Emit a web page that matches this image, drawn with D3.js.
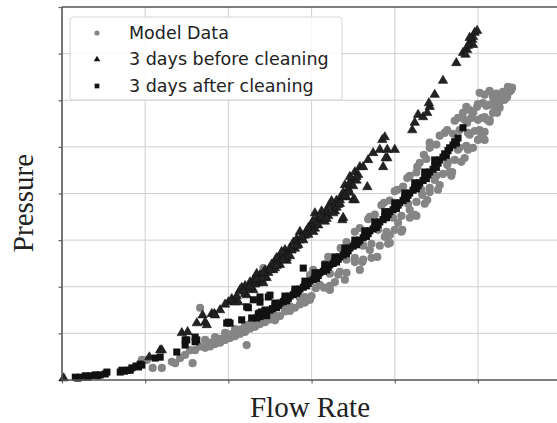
<!DOCTYPE html>
<html>
<head>
<meta charset="utf-8">
<script src="https://cdn.jsdelivr.net/npm/d3@7.9.0/dist/d3.min.js"></script>
<style>
  body { margin: 0; background: #fff; }
  svg { display: block; }
</style>
</head>
<body>
<svg id="chart" width="557" height="423"></svg>
<script>
// series labels, legend order
const seriesNames = ['Model Data', '3 days before cleaning', '3 days after cleaning'];

// grid positions (no tick labels in the figure)
const flowTicks = [0, 1, 2, 3, 4, 5];
const pressureTicks = [0, 1, 2, 3, 4, 5, 6, 7, 8];

// [flow, pressure]
const modelData = [
  [0.96,0.43],[1.02,0.43],[1.09,0.26],[1.20,0.26],[1.32,0.39],[1.36,0.36],[1.57,0.36],[1.66,1.55],
  [2.22,0.75],[2.42,2.40],[1.54,0.64],[1.48,0.54],[1.42,0.47],
  [1.60,0.64],[1.72,0.69],[1.72,0.86],[1.84,0.77],[1.84,0.92],[1.96,0.86],[1.96,1.01],[2.08,0.94],
  [2.08,1.09],[2.20,1.03],[2.20,1.18],[2.32,1.14],[2.32,1.29],
  [1.66,0.72],[1.78,0.80],[1.78,0.72],[1.90,0.88],[1.90,0.80],[2.02,0.98],[2.02,0.90],[2.14,1.08],
  [2.14,0.99],[2.26,1.20],[2.26,1.10],[2.38,1.30],[2.38,1.20],[2.50,1.30],[2.56,1.38],[2.56,1.28],
  [2.68,1.47],[2.74,1.48],[2.74,1.58],[2.86,1.62],[2.92,1.66],[2.92,1.78],
  [2.44,1.24],[2.62,1.37],[2.80,1.55],[2.98,1.72],[3.22,1.93],[3.40,2.15],[3.58,2.36],[3.79,2.64],
  [3.94,2.94],[4.09,3.22],[4.24,3.54],[4.39,3.86],[4.54,4.18],[4.69,4.46],[4.84,4.76],[5.00,5.15],
  [5.14,5.54],[5.26,5.84],[5.38,6.18],
  [2.50,1.42],[2.68,1.57],[2.86,1.76],[3.10,2.04],[3.34,2.32],[3.52,2.53],[3.70,2.79],[3.88,3.07],
  [4.04,3.37],[4.18,3.65],[4.33,3.97],[4.48,4.29],[4.63,4.61],[4.76,4.94],[4.90,5.26],[5.05,5.62],[5.19,5.94],
  [3.00,1.80],[3.28,2.10],[3.61,2.53],[3.94,3.11],[4.21,3.54],[4.42,4.03],[4.66,4.46],[4.88,4.94],[5.08,5.32],
  [2.98,2.25],[3.16,2.49],[3.35,2.83],[3.52,3.18],[3.70,3.50],[3.87,3.80],[4.03,4.08],[4.15,4.33],
  [4.27,4.57],[4.35,4.83],[4.42,5.09],[4.54,5.24],[4.63,5.36],[4.72,5.56],[4.82,5.73],[4.90,5.79],[4.99,5.86],
  [3.05,1.97],[3.15,1.98],[3.22,2.02],
  [3.22,2.28],[3.32,2.26],[3.42,2.30],[3.02,2.36],
  [3.42,2.58],[3.52,2.62],[3.62,2.58],[3.72,2.62],[3.20,2.64],
  [3.62,2.88],[3.72,2.92],[3.82,2.88],[3.92,2.92],[3.42,2.96],
  [3.80,3.22],[3.90,3.18],[4.00,3.22],[4.08,3.18],[3.58,3.26],
  [3.98,3.48],[4.08,3.52],[4.18,3.48],[4.26,3.52],[3.76,3.55],[3.68,3.45],
  [4.16,3.78],[4.26,3.82],[4.36,3.78],[3.94,3.85],[3.84,3.75],
  [4.32,4.08],[4.42,4.12],[4.52,4.08],[4.10,4.15],[4.00,4.05],
  [4.50,4.38],[4.58,4.42],[4.68,4.38],[4.26,4.45],[4.18,4.38],
  [4.64,4.68],[4.72,4.72],[4.80,4.68],[4.38,4.74],[4.30,4.66],
  [4.78,4.98],[4.86,5.02],[4.94,4.98],[4.50,5.05],[4.42,4.98],
  [4.60,5.30],[4.70,5.28],[4.88,5.30],[4.96,5.34],[5.04,5.26],
  [4.76,5.62],[4.84,5.58],[4.92,5.62],[5.00,5.58],[5.08,5.64],[5.14,5.58],
  [4.86,5.86],[5.00,5.92],[5.10,5.88],[5.20,5.88],[5.26,5.96],
  [5.08,6.12],[5.14,6.20],[5.22,6.14],[5.30,6.10],[5.40,6.22],
  [5.02,6.16],[5.06,5.94],[4.94,5.73],[4.87,5.52],[4.78,5.36],[5.18,6.07],[5.26,6.01],[5.35,6.07],
  [5.30,6.18],[5.36,6.29],[5.41,6.27],[5.18,5.73],[5.11,5.58],[5.02,5.36],[5.23,5.73],[5.32,6.01],
  [5.14,5.90],[5.08,5.15],[5.05,5.30]
];

const beforeCleaning = [
  [0.02,0.04],[1.05,0.49],[1.18,0.64],[1.20,0.64],[1.44,1.01],[1.51,1.03],[1.62,1.22],[1.69,1.39],
  [1.72,1.24],[1.74,1.18],[1.80,1.42],[1.83,1.42],[1.84,1.39],[2.00,1.67],[2.08,1.67],[2.12,1.67],
  [2.22,1.82],[2.28,1.97],[2.30,1.93],[2.36,2.08],[2.42,2.08],[2.46,2.19],[2.54,2.36],[2.62,2.47],[2.70,2.56],
  [2.14,1.93],[2.26,2.10],[2.38,2.25],[2.50,2.40],[2.62,2.62],[2.68,2.79],[2.74,2.83],[2.86,3.00],
  [2.86,3.18],[2.98,3.26],[3.04,3.58],[3.10,3.43],[3.22,3.76],[3.34,3.86],[3.40,4.18],[3.52,4.46],
  [2.20,2.02],[2.20,1.85],[2.32,2.20],[2.32,2.05],[2.44,2.35],[2.44,2.20],[2.56,2.55],[2.56,2.40],
  [2.66,2.70],[2.72,2.70],[2.78,2.95],[2.80,2.82],[2.92,3.10],[2.94,3.20],[3.00,3.35],[3.06,3.45],
  [3.14,3.55],[3.18,3.65],[3.26,3.70],[3.30,3.85],[3.36,3.95],[3.44,4.10],[3.48,4.30],[3.56,4.40],[3.58,4.57],
  [1.90,1.50],[1.96,1.62],[2.04,1.74],[2.10,1.80],[2.16,1.98],[2.24,1.95],[2.30,2.12],[2.34,2.28],
  [2.40,2.18],[2.48,2.30],[2.52,2.48],[2.58,2.62],[2.60,2.50],[2.64,2.75],[2.70,2.62],[2.76,2.78],
  [2.82,3.02],[2.84,2.90],[2.90,3.00],[2.96,3.12],[3.02,3.42],[3.04,3.25],[3.12,3.62],[3.16,3.40],
  [3.20,3.52],[3.24,3.84],[3.28,3.62],[3.32,3.76],[3.38,4.02],[3.42,3.92],[3.46,4.22],[3.54,4.28],
  [2.18,1.90],[2.26,2.00],[2.34,2.16],[2.42,2.30],[2.50,2.36],[2.58,2.45],[2.66,2.58],[2.74,2.66],
  [2.82,2.88],[2.88,3.08],[2.96,3.26],[3.02,3.18],[3.08,3.32],[3.12,3.50],[3.18,3.46],[3.26,3.58],
  [3.30,3.70],[3.34,3.78],[3.40,3.96],[3.46,4.02],[3.50,4.16],[3.54,4.36],[3.46,4.36],
  [3.37,3.43],[3.50,3.86],[3.38,3.48],[3.52,3.86],[3.67,4.14],
  [3.62,4.57],[3.68,4.72],[3.74,4.87],[3.82,4.94],[3.91,4.94],[4.00,4.94],[3.91,4.76],[3.85,5.15],
  [3.88,5.21],[3.86,4.57],[3.89,4.76],
  [4.21,5.36],[4.24,5.52],[4.28,5.69],[4.34,5.64],[4.39,5.73],[4.42,5.86],[4.41,5.94],[4.48,6.12],
  [4.58,6.42],[4.74,6.80],[4.82,7.02],[4.87,7.08],[4.90,7.23],[4.93,7.30],[4.94,7.36],[4.96,7.45],
  [4.94,7.19],[4.90,7.34],[4.88,7.17],[4.99,7.49],[4.85,6.98]
];

const afterCleaning = [
  [0.16,0.06],[0.19,0.04],[0.22,0.06],[0.28,0.09],[0.31,0.06],[0.34,0.09],[0.40,0.11],[0.43,0.09],
  [0.46,0.11],[0.52,0.13],[0.54,0.17],
  [0.70,0.17],[0.72,0.21],[0.75,0.19],[0.79,0.21],[0.82,0.21],[0.84,0.26],[0.89,0.30],[0.92,0.28],[0.94,0.34],
  [0.96,0.32],[1.12,0.47],[1.18,0.49],[1.38,0.60],[1.48,0.75],[1.48,0.86],[1.50,0.86],[1.60,0.82],
  [1.60,0.92],[1.62,0.86],
  [1.98,1.22],[2.00,1.24],[2.02,1.22],[2.16,1.29],[2.22,1.57],[2.24,1.55],[2.30,1.72],[2.38,1.44],
  [2.38,1.67],[2.38,1.78],[2.40,1.46],[2.48,1.78],[2.50,1.82],[2.90,2.40],
  [2.34,1.33],[2.42,1.42],[2.50,1.50],[2.56,1.59],[2.62,1.65],[2.68,1.72],[2.74,1.80],[2.80,1.89],
  [2.86,1.95],[2.92,2.04],[2.98,2.12],[3.04,2.21],[3.10,2.30],[3.16,2.38],[3.22,2.47],[3.28,2.55],
  [3.34,2.64],[3.40,2.73],[3.46,2.83],[3.52,2.92],[3.58,3.00],[3.64,3.09],[3.70,3.20],[3.76,3.28],
  [3.82,3.39],[3.88,3.50],[3.94,3.61],[4.00,3.69],[4.06,3.80],[4.12,3.91],[4.18,4.01],[4.24,4.12],
  [4.30,4.23],[4.36,4.33],[4.42,4.46],[4.48,4.59],[4.54,4.72],[4.60,4.85],[4.66,4.98],[4.72,5.11],
  [4.76,5.19],[4.82,5.41],
  [2.28,1.33],[2.36,1.42],[2.44,1.50],[2.56,1.65],[2.68,1.80],[2.80,1.95],[2.92,2.12],[3.04,2.30],
  [3.16,2.47],[3.28,2.64],[3.40,2.83],[3.52,3.00],[3.64,3.20],[3.76,3.39],[3.88,3.61],[4.00,3.80],
  [4.12,4.01],[4.24,4.23],[4.36,4.46],[4.48,4.72],
  [2.38,1.36],[2.46,1.44],[2.53,1.53],[2.60,1.60],[2.66,1.68],[2.72,1.75],[2.78,1.83],[2.84,1.91],
  [2.90,1.99],[2.96,2.07],[3.02,2.15],[3.08,2.24],[3.14,2.33],[3.20,2.42],[3.26,2.50],[3.32,2.59],
  [3.38,2.68],[3.44,2.77],[3.50,2.87],[3.56,2.96],[3.62,3.05],[3.68,3.14],[3.74,3.24],[3.80,3.33],
  [3.86,3.44],[3.92,3.55],[3.98,3.65],[4.04,3.75],[4.10,3.85],[4.16,3.96],[4.22,4.07],[4.28,4.17],
  [4.34,4.28],[4.40,4.40],[4.46,4.52],[4.52,4.65],[4.58,4.78],[4.64,4.92],[4.70,5.04],
  [2.46,1.38],[2.58,1.55],[2.70,1.70],[2.82,1.86],[2.94,2.02],[3.06,2.18],[3.18,2.36],[3.30,2.53],
  [3.42,2.71],[3.54,2.90],[3.66,3.08],[3.78,3.27],[3.90,3.48],[4.02,3.68],[4.14,3.89],[4.26,4.10],
  [4.38,4.32],[4.50,4.56],[4.62,4.82],[4.74,5.08]
];

const margin = { left: 62, top: 7, right: 0, bottom: 43 };
const width = 557, height = 423;

const svg = d3.select('#chart');

let x = d3.scaleLinear().domain([0, 5.95]).range([margin.left, width - margin.right]);
let y = d3.scaleLinear().domain([0, 8]).range([height - margin.bottom, margin.top]);

// grid
svg.append('g')
  .selectAll('line')
  .data(flowTicks.slice(1))
  .join('line')
  .attr('x1', d => x(d)).attr('x2', d => x(d))
  .attr('y1', y(0)).attr('y2', y(8))
  .attr('stroke', '#cfcfcf').attr('stroke-width', 1);

svg.append('g')
  .selectAll('line')
  .data(pressureTicks.slice(1, -1))
  .join('line')
  .attr('x1', x(0)).attr('x2', width)
  .attr('y1', d => y(d)).attr('y2', d => y(d))
  .attr('stroke', '#cfcfcf').attr('stroke-width', 1);

// axes: ticks only, no labels
let xAxis = d3.axisBottom(x).tickValues(flowTicks).tickSize(3.5).tickFormat('');
let yAxis = d3.axisLeft(y).tickValues(pressureTicks).tickSize(3.5).tickFormat('');

let gx = svg.append('g').attr('transform', `translate(0,${y(0)})`).call(xAxis);
let gy = svg.append('g').attr('transform', `translate(${x(0)},0)`).call(yAxis);
gx.select('.domain').remove();
gy.select('.domain').remove();
svg.selectAll('.tick line').attr('stroke', '#666').attr('stroke-width', 1.2);

// points
const symTri = d3.symbol().type(d3.symbolTriangle).size(38);
const symSq = d3.symbol().type(d3.symbolSquare).size(50);

svg.append('g')
  .selectAll('circle')
  .data(modelData)
  .join('circle')
  .attr('cx', d => x(d[0]))
  .attr('cy', d => y(d[1]))
  .attr('r', 4.1)
  .attr('fill', '#858585');

svg.append('g')
  .selectAll('path')
  .data(beforeCleaning)
  .join('path')
  .attr('d', symTri)
  .attr('transform', d => `translate(${x(d[0])},${y(d[1])})`)
  .attr('fill', '#222')
  .attr('stroke', '#111')
  .attr('stroke-width', 0.6);

svg.append('g')
  .selectAll('path')
  .data(afterCleaning)
  .join('path')
  .attr('d', symSq)
  .attr('transform', d => `translate(${x(d[0])},${y(d[1])})`)
  .attr('fill', '#111');

// spines
svg.append('line')
  .attr('x1', x(0)).attr('x2', width)
  .attr('y1', y(0)).attr('y2', y(0))
  .attr('stroke', '#555').attr('stroke-width', 1.6);
svg.append('line')
  .attr('x1', x(0)).attr('x2', width)
  .attr('y1', y(8)).attr('y2', y(8))
  .attr('stroke', '#555').attr('stroke-width', 1.6);
svg.append('line')
  .attr('x1', x(0)).attr('x2', x(0))
  .attr('y1', y(0)).attr('y2', y(8))
  .attr('stroke', '#555').attr('stroke-width', 1.6);

// legend
let legend = svg.append('g');
legend.append('rect')
  .attr('x', 70).attr('y', 17)
  .attr('width', 272).attr('height', 83)
  .attr('rx', 3)
  .attr('fill', 'rgba(255,255,255,0.85)')
  .attr('stroke', '#d6d6d6').attr('stroke-width', 1);

seriesNames.forEach((name, i) => {
  let cy = 33 + i * 26.5;
  if (i === 0) {
    legend.append('circle').attr('cx', 97).attr('cy', cy).attr('r', 2.6).attr('fill', '#858585');
  } else {
    legend.append('path')
      .attr('d', d3.symbol().type(i === 1 ? d3.symbolTriangle : d3.symbolSquare).size(i === 1 ? 18 : 22))
      .attr('transform', `translate(97,${cy})`)
      .attr('fill', '#111');
  }
  legend.append('text')
    .attr('x', 129).attr('y', cy + 5.5)
    .attr('font-family', 'DejaVu Sans')
    .attr('font-size', 17.5)
    .attr('fill', '#222')
    .text(name);
});

// axis titles
svg.append('text')
  .attr('x', 310).attr('y', 417)
  .attr('text-anchor', 'middle')
  .attr('font-family', 'Liberation Serif')
  .attr('font-size', 29)
  .attr('fill', '#222')
  .text('Flow Rate');

svg.append('text')
  .attr('transform', 'translate(33,203) rotate(-90)')
  .attr('text-anchor', 'middle')
  .attr('font-family', 'Liberation Serif')
  .attr('font-size', 29)
  .attr('fill', '#222')
  .text('Pressure');
</script>
</body>
</html>
